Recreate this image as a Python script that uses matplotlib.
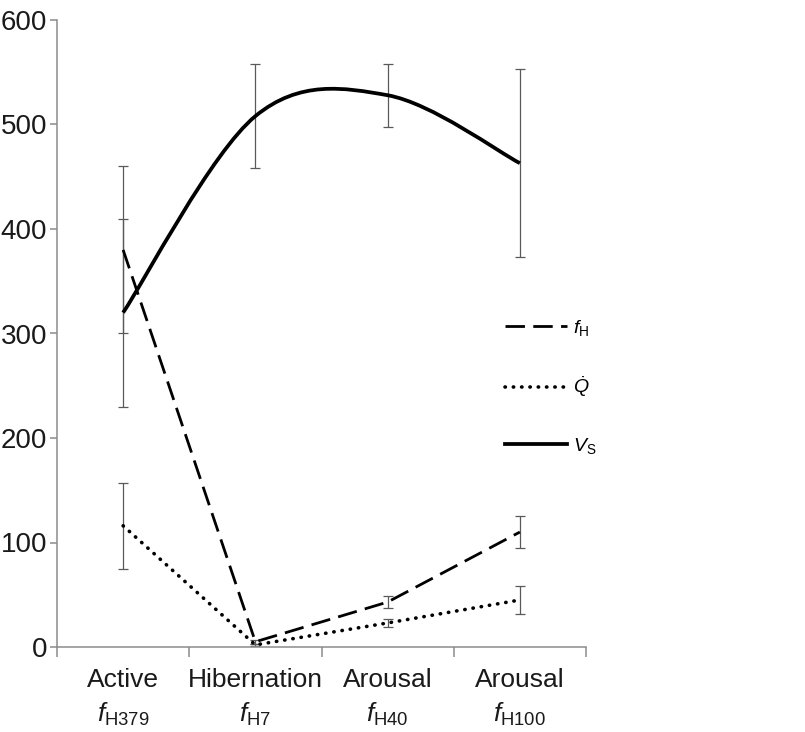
import matplotlib
matplotlib.use("Agg")
import matplotlib.pyplot as plt
import numpy as np
from matplotlib.path import Path
from matplotlib.patches import PathPatch
from matplotlib.lines import Line2D

plt.rcParams["font.family"] = ["Liberation Sans", "DejaVu Sans"]
plt.rcParams["mathtext.fontset"] = "custom"
plt.rcParams["mathtext.rm"] = "Liberation Sans"
plt.rcParams["mathtext.it"] = "Liberation Sans:italic"

# data
categories = ["Active\n$f_\\mathrm{H379}$", "Hibernation\n$f_\\mathrm{H7}$",
              "Arousal\n$f_\\mathrm{H40}$", "Arousal\n$f_\\mathrm{H100}$"]
fh = [380, 5, 43, 110]
fh_err = [80, 2, 6, 15]
qdot = [116, 2, 23, 45]
qdot_err = [41, 1, 4, 13]
vs = [320, 508, 528, 463]
vs_err = [90, 50, 30, 90]

AXIS_GREY = "#8c8c8c"
ERR_GREY = "#5a5a5a"
DASH = (0, (7, 3))
DOT = (0, (0.1, 2.2))


def smooth_path(xs, ys):
    # Excel-style smoothed line: cubic Bezier segments, Catmull-Rom tangents
    pts = np.column_stack([xs, ys]).astype(float)
    n = len(pts)
    verts = [pts[0]]
    codes = [Path.MOVETO]
    for i in range(n - 1):
        p_prev = pts[i - 1] if i > 0 else pts[i]
        p_next = pts[i + 2] if i + 2 < n else pts[i + 1]
        c1 = pts[i] + (pts[i + 1] - p_prev) / 6
        c2 = pts[i + 1] - (p_next - pts[i]) / 6
        verts += [c1, c2, pts[i + 1]]
        codes += [Path.CURVE4] * 3
    return Path(verts, codes)


fig = plt.figure(figsize=(8.05, 7.32), dpi=100)
ax = fig.add_axes([57 / 805, 1 - 647 / 732, (586 - 57) / 805, (647 - 20) / 732])

x = np.arange(len(categories))
err_kw = dict(fmt="none", ecolor=ERR_GREY, elinewidth=0.9, capsize=3.8, capthick=0.9, zorder=2)
ax.errorbar(x, vs, yerr=vs_err, **err_kw)
ax.errorbar(x, fh, yerr=fh_err, **err_kw)
ax.errorbar(x, qdot, yerr=qdot_err, **err_kw)

ax.plot(x, fh, color="black", lw=2, linestyle=DASH, zorder=3)
ax.plot(x, qdot, color="black", lw=2.6, linestyle=DOT, dash_capstyle="round", zorder=3)
ax.add_patch(PathPatch(smooth_path(x, vs), facecolor="none", edgecolor="black",
                       lw=2.7, zorder=3))

ax.set_xlim(-0.5, 3.5)
ax.set_ylim(0, 600)
ax.set_yticks(np.arange(0, 601, 100))
ax.set_xticks(x)
ax.set_xticklabels(categories, fontsize=19, linespacing=1.45)
ax.set_xticks(np.arange(-0.5, 3.6, 1), minor=True)
ax.tick_params(axis="x", which="major", length=0, pad=15, colors="#1a1a1a")
ax.tick_params(axis="x", which="minor", length=7, width=1.1, color=AXIS_GREY)
ax.tick_params(axis="y", length=5, width=1.1, color=AXIS_GREY, labelsize=20,
               labelcolor="#1a1a1a", pad=2)

for side in ["top", "right"]:
    ax.spines[side].set_visible(False)
for side in ["left", "bottom"]:
    ax.spines[side].set_color(AXIS_GREY)
    ax.spines[side].set_linewidth(1.1)

handles = [
    Line2D([], [], color="black", lw=2, linestyle=DASH),
    Line2D([], [], color="black", lw=2.6, linestyle=DOT, dash_capstyle="round"),
    Line2D([], [], color="black", lw=2.7),
]
labels = ["$f_\\mathrm{H}$", "$\\dot{Q}$", "$V_\\mathrm{S}$"]
fig.legend(handles, labels, loc="center left", bbox_to_anchor=(505 / 805, 1 - 387 / 732),
           frameon=False, fontsize=14, handlelength=3.2, handletextpad=0.3,
           labelspacing=1.9, borderpad=0, borderaxespad=0)

fig.savefig("out.png", dpi=100)
